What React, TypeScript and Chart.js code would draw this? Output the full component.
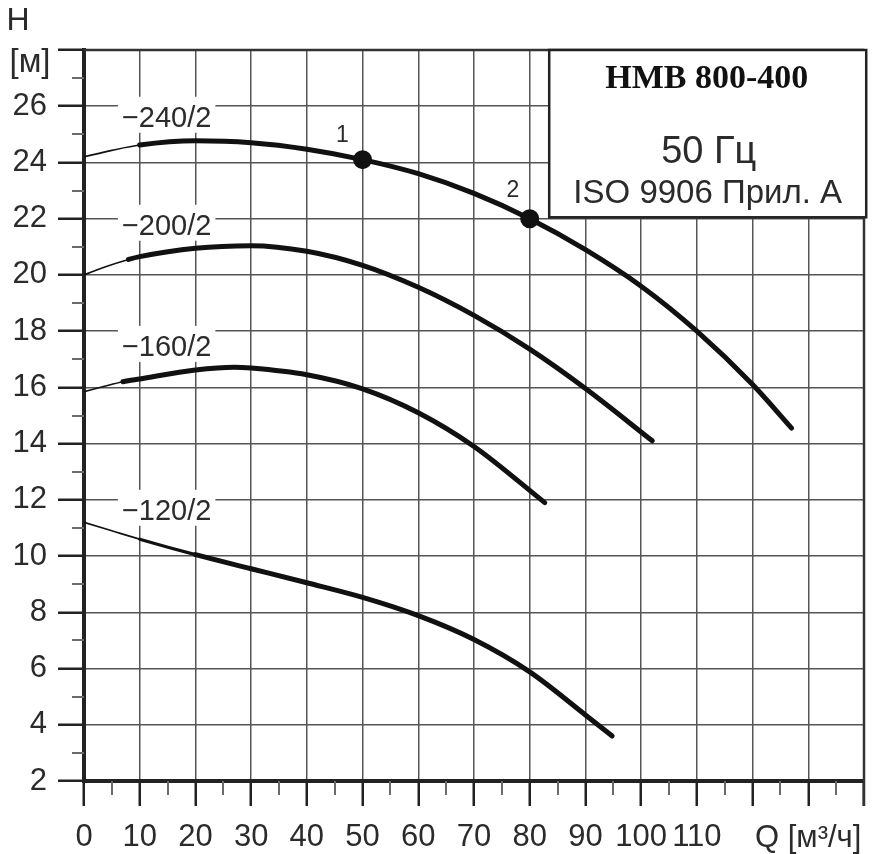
import React, { useEffect, useRef } from 'react';
import { Chart, registerables } from 'chart.js';

Chart.register(...registerables);

// Pump head curves, flow Q [m³/h] against head H [m]
const flow240 = [0, 5, 10, 20, 30, 40, 50, 60, 70, 80, 90, 100, 110, 120, 127];
const head240 = [24.2, 24.43, 24.62, 24.77, 24.7, 24.47, 24.1, 23.6, 22.9, 22.0, 20.9, 19.6, 18.0, 16.1, 14.55];

const flow200 = [0, 4, 8, 10, 20, 30, 40, 50, 60, 70, 80, 90, 102];
const head200 = [20.0, 20.3, 20.55, 20.65, 20.95, 21.04, 20.84, 20.34, 19.56, 18.56, 17.36, 15.96, 14.1];

const flow160 = [0, 3.5, 7, 10, 20, 27, 30, 40, 50, 60, 70, 82.7];
const head160 = [15.85, 16.03, 16.2, 16.3, 16.62, 16.72, 16.69, 16.45, 15.95, 15.1, 13.9, 11.9];

const flow120 = [0, 5, 10, 20, 30, 40, 50, 60, 70, 80, 90, 94.8];
const head120 = [11.2, 10.9, 10.6, 10.05, 9.55, 9.05, 8.53, 7.88, 7.03, 5.88, 4.35, 3.6];

// Duty points on the 240/2 curve
const dutyFlow = [50, 80];
const dutyHead = [24.1, 22.0];
const dutyNames = ['1', '2'];

const curveNames = ['\u2212240/2', '\u2212200/2', '\u2212160/2', '\u2212120/2'];

const flowTicks = [0, 10, 20, 30, 40, 50, 60, 70, 80, 90, 100, 110];
const headTicks = [2, 4, 6, 8, 10, 12, 14, 16, 18, 20, 22, 24, 26];

const boxLines = ['HMB 800-400', '50 Гц', 'ISO 9906 Прил. А'];

const SANS = '"Liberation Sans", Arial, sans-serif';
const SERIF = '"Liberation Serif", "Times New Roman", serif';
const INK = '#111';
const TEXT = '#2b2b2b';

const toPoints = (q: number[], h: number[]) => q.map((v, i) => ({ x: v, y: h[i] }));

// thin start of each curve, then the heavy working range
const widthFrom = (thinUntil: number, midUntil: number) => (c: any) => {
  const x1 = c.p1.parsed.x;
  if (x1 <= thinUntil) return 1.6;
  if (x1 <= midUntil) return 3.2;
  return 5;
};

// where the curve names sit (left edge, baseline) in axis units
const curveLabelAnchors = [
  { q: 6.8, h: 25.27 },
  { q: 6.8, h: 21.43 },
  { q: 6.8, h: 17.12 },
  { q: 6.8, h: 11.29 },
];
const dutyLabelAnchors = [
  { q: 46.4, h: 24.74 },
  { q: 77.0, h: 22.78 },
];

const decorPlugin = {
  id: 'decor',
  afterDatasetsDraw(chart: any) {
    const { ctx, chartArea: a, scales } = chart;
    const xs = scales.x;
    const ys = scales.y;
    const seg = (x1: number, y1: number, x2: number, y2: number) => {
      ctx.beginPath();
      ctx.moveTo(x1, y1);
      ctx.lineTo(x2, y2);
      ctx.stroke();
    };
    ctx.save();

    // minor ticks
    ctx.strokeStyle = '#6a6a6a';
    ctx.lineWidth = 2;
    for (let v = 3; v < 28; v += 2) {
      const py = Math.round(ys.getPixelForValue(v));
      seg(a.left - 12, py, a.left, py);
    }
    for (let v = 5; v < 140; v += 10) {
      const px = Math.round(xs.getPixelForValue(v));
      seg(px, a.bottom, px, a.bottom + 14);
    }

    // top and right frame
    ctx.strokeStyle = '#333';
    ctx.lineWidth = 2.5;
    seg(a.left, a.top, a.right, a.top);
    seg(a.right, a.top, a.right, a.bottom + 25);

    // curve names on white patches
    ctx.font = `29px ${SANS}`;
    ctx.textAlign = 'left';
    ctx.textBaseline = 'alphabetic';
    curveNames.forEach((name, i) => {
      const px = xs.getPixelForValue(curveLabelAnchors[i].q);
      const py = ys.getPixelForValue(curveLabelAnchors[i].h);
      const w = ctx.measureText(name).width;
      ctx.fillStyle = '#fff';
      ctx.fillRect(px - 4, py - 30, w + 8, 36);
      ctx.fillStyle = TEXT;
      ctx.fillText(name, px, py);
    });

    // duty point numbers
    ctx.font = `23px ${SANS}`;
    ctx.textAlign = 'center';
    ctx.fillStyle = TEXT;
    dutyNames.forEach((n, i) => {
      ctx.fillText(n, xs.getPixelForValue(dutyLabelAnchors[i].q), ys.getPixelForValue(dutyLabelAnchors[i].h));
    });

    // title box
    const bx1 = xs.getPixelForValue(83.5);
    const bx2 = xs.getPixelForValue(140.4);
    const by1 = a.top;
    const by2 = ys.getPixelForValue(22.05);
    ctx.fillStyle = '#fff';
    ctx.fillRect(bx1, by1, bx2 - bx1, by2 - by1);
    ctx.strokeStyle = '#222';
    ctx.lineWidth = 2.5;
    ctx.strokeRect(bx1, by1, bx2 - bx1, by2 - by1);
    const cx = (bx1 + bx2) / 2 - 1;
    ctx.textAlign = 'center';
    ctx.fillStyle = INK;
    ctx.font = `bold 34px ${SERIF}`;
    ctx.fillText(boxLines[0], cx, by1 + 38);
    ctx.fillStyle = TEXT;
    ctx.font = `38px ${SANS}`;
    ctx.fillText(boxLines[1], cx + 2, by1 + 113);
    ctx.font = `33px ${SANS}`;
    ctx.fillText(boxLines[2], cx + 1, by1 + 153);

    // axis titles
    ctx.fillStyle = TEXT;
    ctx.font = `32px ${SANS}`;
    ctx.textAlign = 'center';
    ctx.fillText('H', 18, 30);
    ctx.font = `33px ${SANS}`;
    ctx.fillText('[м]', 30, 72);
    ctx.textAlign = 'left';
    ctx.font = `31px ${SANS}`;
    ctx.fillText('Q [м³/ч]', 755, 847);

    ctx.restore();
  },
};

export default function App() {
  const canvasRef = useRef<HTMLCanvasElement | null>(null);

  useEffect(() => {
    if (!canvasRef.current) return;
    const lineSet = (data: any[], thin: number, mid: number) => ({
      type: 'line' as const,
      data,
      borderColor: INK,
      borderWidth: 5,
      borderCapStyle: 'round' as const,
      borderJoinStyle: 'round' as const,
      cubicInterpolationMode: 'monotone' as const,
      pointRadius: 0,
      fill: false,
      segment: { borderWidth: widthFrom(thin, mid) },
    });

    const chart = new Chart(canvasRef.current, {
      type: 'line',
      data: {
        datasets: [
          lineSet(toPoints(flow240, head240), 10, 10),
          lineSet(toPoints(flow200, head200), 8, 8),
          lineSet(toPoints(flow160, head160), 7, 7),
          lineSet(toPoints(flow120, head120), 10, 20),
          {
            type: 'scatter' as const,
            data: toPoints(dutyFlow, dutyHead),
            backgroundColor: INK,
            borderColor: INK,
            borderWidth: 2,
            pointRadius: 8.5,
            pointStyle: 'circle',
            showLine: false,
          } as any,
        ],
      },
      options: {
        responsive: false,
        animation: false,
        events: [],
        layout: { padding: { top: 50, right: 8, left: 0, bottom: 0 } },
        plugins: { legend: { display: false }, tooltip: { enabled: false }, title: { display: false } },
        scales: {
          x: {
            type: 'linear',
            min: 0,
            max: 140,
            afterFit: (s: any) => { s.height = 73; },
            ticks: {
              stepSize: 10,
              autoSkip: false,
              maxRotation: 0,
              padding: 13,
              color: TEXT,
              font: { family: SANS, size: 31 },
              callback: (v: any) => (flowTicks.includes(Number(v)) ? String(v) : ''),
            },
            grid: {
              color: '#555',
              lineWidth: 1.5,
              drawTicks: true,
              tickLength: 25,
              tickColor: '#222',
              tickWidth: 2.5,
            },
            border: { display: true, color: '#222', width: 4 },
          },
          y: {
            type: 'linear',
            min: 2,
            max: 28,
            afterFit: (s: any) => { s.width = 84; },
            ticks: {
              stepSize: 2,
              autoSkip: false,
              padding: 11,
              color: TEXT,
              font: { family: SANS, size: 31 },
              callback: (v: any) => (headTicks.includes(Number(v)) ? String(v) : ''),
            },
            grid: {
              color: '#555',
              lineWidth: 1.5,
              drawTicks: true,
              tickLength: 26,
              tickColor: '#222',
              tickWidth: 2.5,
            },
            border: { display: true, color: '#222', width: 4 },
          },
        },
      },
      plugins: [decorPlugin],
    });
    return () => chart.destroy();
  }, []);

  return (
    <div style={{ position: 'absolute', left: 0, top: 0, width: 877, height: 854, background: '#fff' }}>
      <canvas ref={canvasRef} width={877} height={854} />
    </div>
  );
}
